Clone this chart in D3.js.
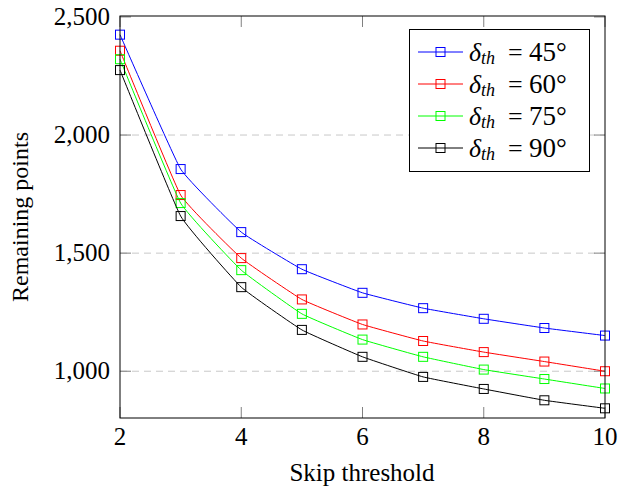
<!DOCTYPE html>
<html>
<head>
<meta charset="utf-8">
<script src="https://cdn.jsdelivr.net/npm/d3@7"></script>
</head>
<body style="margin:0; background:#fff">
<svg width="618" height="491"></svg>
<script>
var svg = d3.select('svg');
var serif = 'Liberation Serif';

// data
var thresholds = [2, 3, 4, 5, 6, 7, 8, 9, 10];
var deg45 = [2425, 1856, 1589, 1432, 1332, 1267, 1222, 1183, 1151];
var deg60 = [2357, 1746, 1479, 1304, 1198, 1128, 1081, 1041, 1000];
var deg75 = [2321, 1712, 1428, 1243, 1134, 1061, 1007, 967, 927];
var deg90 = [2275, 1657, 1356, 1175, 1061, 976, 925, 877, 843];
var seriesNames = ['45', '60', '75', '90'];
var seriesColors = ['#0000ff', '#ff0000', '#00ff00', '#000000'];
var xTicks = [2, 4, 6, 8, 10];
var yTicks = [1000, 1500, 2000, 2500];

var series = [deg45, deg60, deg75, deg90];

var plot = {l: 120, r: 605, t: 16, b: 418};

var xScale = d3.scaleLinear().domain([2, 10]).range([plot.l, plot.r]);
var yScale = d3.scaleLinear().domain([802, 2504]).range([plot.b, plot.t]);

// grid lines
svg.append('g').selectAll('line')
    .data(yTicks.filter(function(d){ return d < 2500; }))
    .enter().append('line')
    .attr('x1', plot.l).attr('x2', plot.r)
    .attr('y1', function(d){ return yScale(d); })
    .attr('y2', function(d){ return yScale(d); })
    .attr('stroke', '#c8c8c8')
    .attr('stroke-width', 1)
    .attr('stroke-dasharray', '7,5');

// tick marks (inside, on all sides)
var tickG = svg.append('g').attr('stroke', '#808080').attr('stroke-width', 1);
xTicks.forEach(function(t){
    var x = xScale(t);
    tickG.append('line').attr('x1', x).attr('x2', x).attr('y1', plot.b).attr('y2', plot.b - 11);
    tickG.append('line').attr('x1', x).attr('x2', x).attr('y1', plot.t).attr('y2', plot.t + 11);
});
yTicks.forEach(function(t){
    var y = yScale(t);
    tickG.append('line').attr('x1', plot.l).attr('x2', plot.l + 11).attr('y1', y).attr('y2', y);
    tickG.append('line').attr('x1', plot.r).attr('x2', plot.r - 11).attr('y1', y).attr('y2', y);
});

// tick labels
var fmt = d3.format(',');
svg.append('g').selectAll('text')
    .data(xTicks).enter().append('text')
    .attr('x', function(d){ return xScale(d); })
    .attr('y', 445)
    .attr('text-anchor', 'middle')
    .style('font-family', serif)
    .style('font-size', '25px')
    .text(function(d){ return d; });

svg.append('g').selectAll('text')
    .data(yTicks).enter().append('text')
    .attr('x', 110)
    .attr('y', function(d){ return yScale(d) + 8; })
    .attr('text-anchor', 'end')
    .style('font-family', serif)
    .style('font-size', '25px')
    .text(function(d){ return fmt(d); });

// axis titles
svg.append('text')
    .attr('x', 362)
    .attr('y', 481)
    .attr('text-anchor', 'middle')
    .style('font-family', serif)
    .style('font-size', '25px')
    .text('Skip threshold');

svg.append('text')
    .attr('transform', 'translate(28,217) rotate(-90)')
    .attr('text-anchor', 'middle')
    .style('font-family', serif)
    .style('font-size', '24px')
    .text('Remaining points');

// lines + markers
var line = d3.line()
    .x(function(d, i){ return xScale(thresholds[i]); })
    .y(function(d){ return yScale(d); })
    .curve(d3.curveCardinal.tension(0.7));

var ms = 9;
series.forEach(function(vals, k){
    var g = svg.append('g');
    g.append('path')
        .attr('d', line(vals))
        .attr('fill', 'none')
        .attr('stroke', seriesColors[k])
        .attr('stroke-width', 1);
    g.selectAll('rect')
        .data(vals).enter().append('rect')
        .attr('x', function(d, i){ return xScale(thresholds[i]) - ms / 2; })
        .attr('y', function(d){ return yScale(d) - ms / 2; })
        .attr('width', ms).attr('height', ms)
        .attr('fill', 'none')
        .attr('stroke', seriesColors[k])
        .attr('stroke-width', 1);
});

// frame
svg.append('rect')
    .attr('x', plot.l).attr('y', plot.t)
    .attr('width', plot.r - plot.l).attr('height', plot.b - plot.t)
    .attr('fill', 'none').attr('stroke', '#000').attr('stroke-width', 1);

// legend
var leg = svg.append('g');
leg.append('rect')
    .attr('x', 409.5).attr('y', 29.5).attr('width', 180).attr('height', 142)
    .attr('fill', '#fff').attr('stroke', '#000').attr('stroke-width', 1);

seriesNames.forEach(function(name, k){
    var y = 52 + k * 32;
    leg.append('line')
        .attr('x1', 418).attr('x2', 463).attr('y1', y).attr('y2', y)
        .attr('stroke', seriesColors[k]).attr('stroke-width', 1);
    leg.append('rect')
        .attr('x', 440.5 - ms / 2).attr('y', y - ms / 2)
        .attr('width', ms).attr('height', ms)
        .attr('fill', 'none').attr('stroke', seriesColors[k]).attr('stroke-width', 1);
    var t = leg.append('text')
        .attr('y', y + 9)
        .style('font-family', serif)
        .style('font-size', '26px');
    t.append('tspan').attr('x', 469).style('font-style', 'italic').text('δ');
    t.append('tspan').attr('x', 481).attr('dy', 3)
        .style('font-style', 'italic').style('font-size', '18px').text('th');
    t.append('tspan').attr('x', 508).attr('dy', -3).text('=');
    t.append('tspan').attr('x', 529).style('font-size', '27px').text(name + '°');
});
</script>
</body>
</html>
